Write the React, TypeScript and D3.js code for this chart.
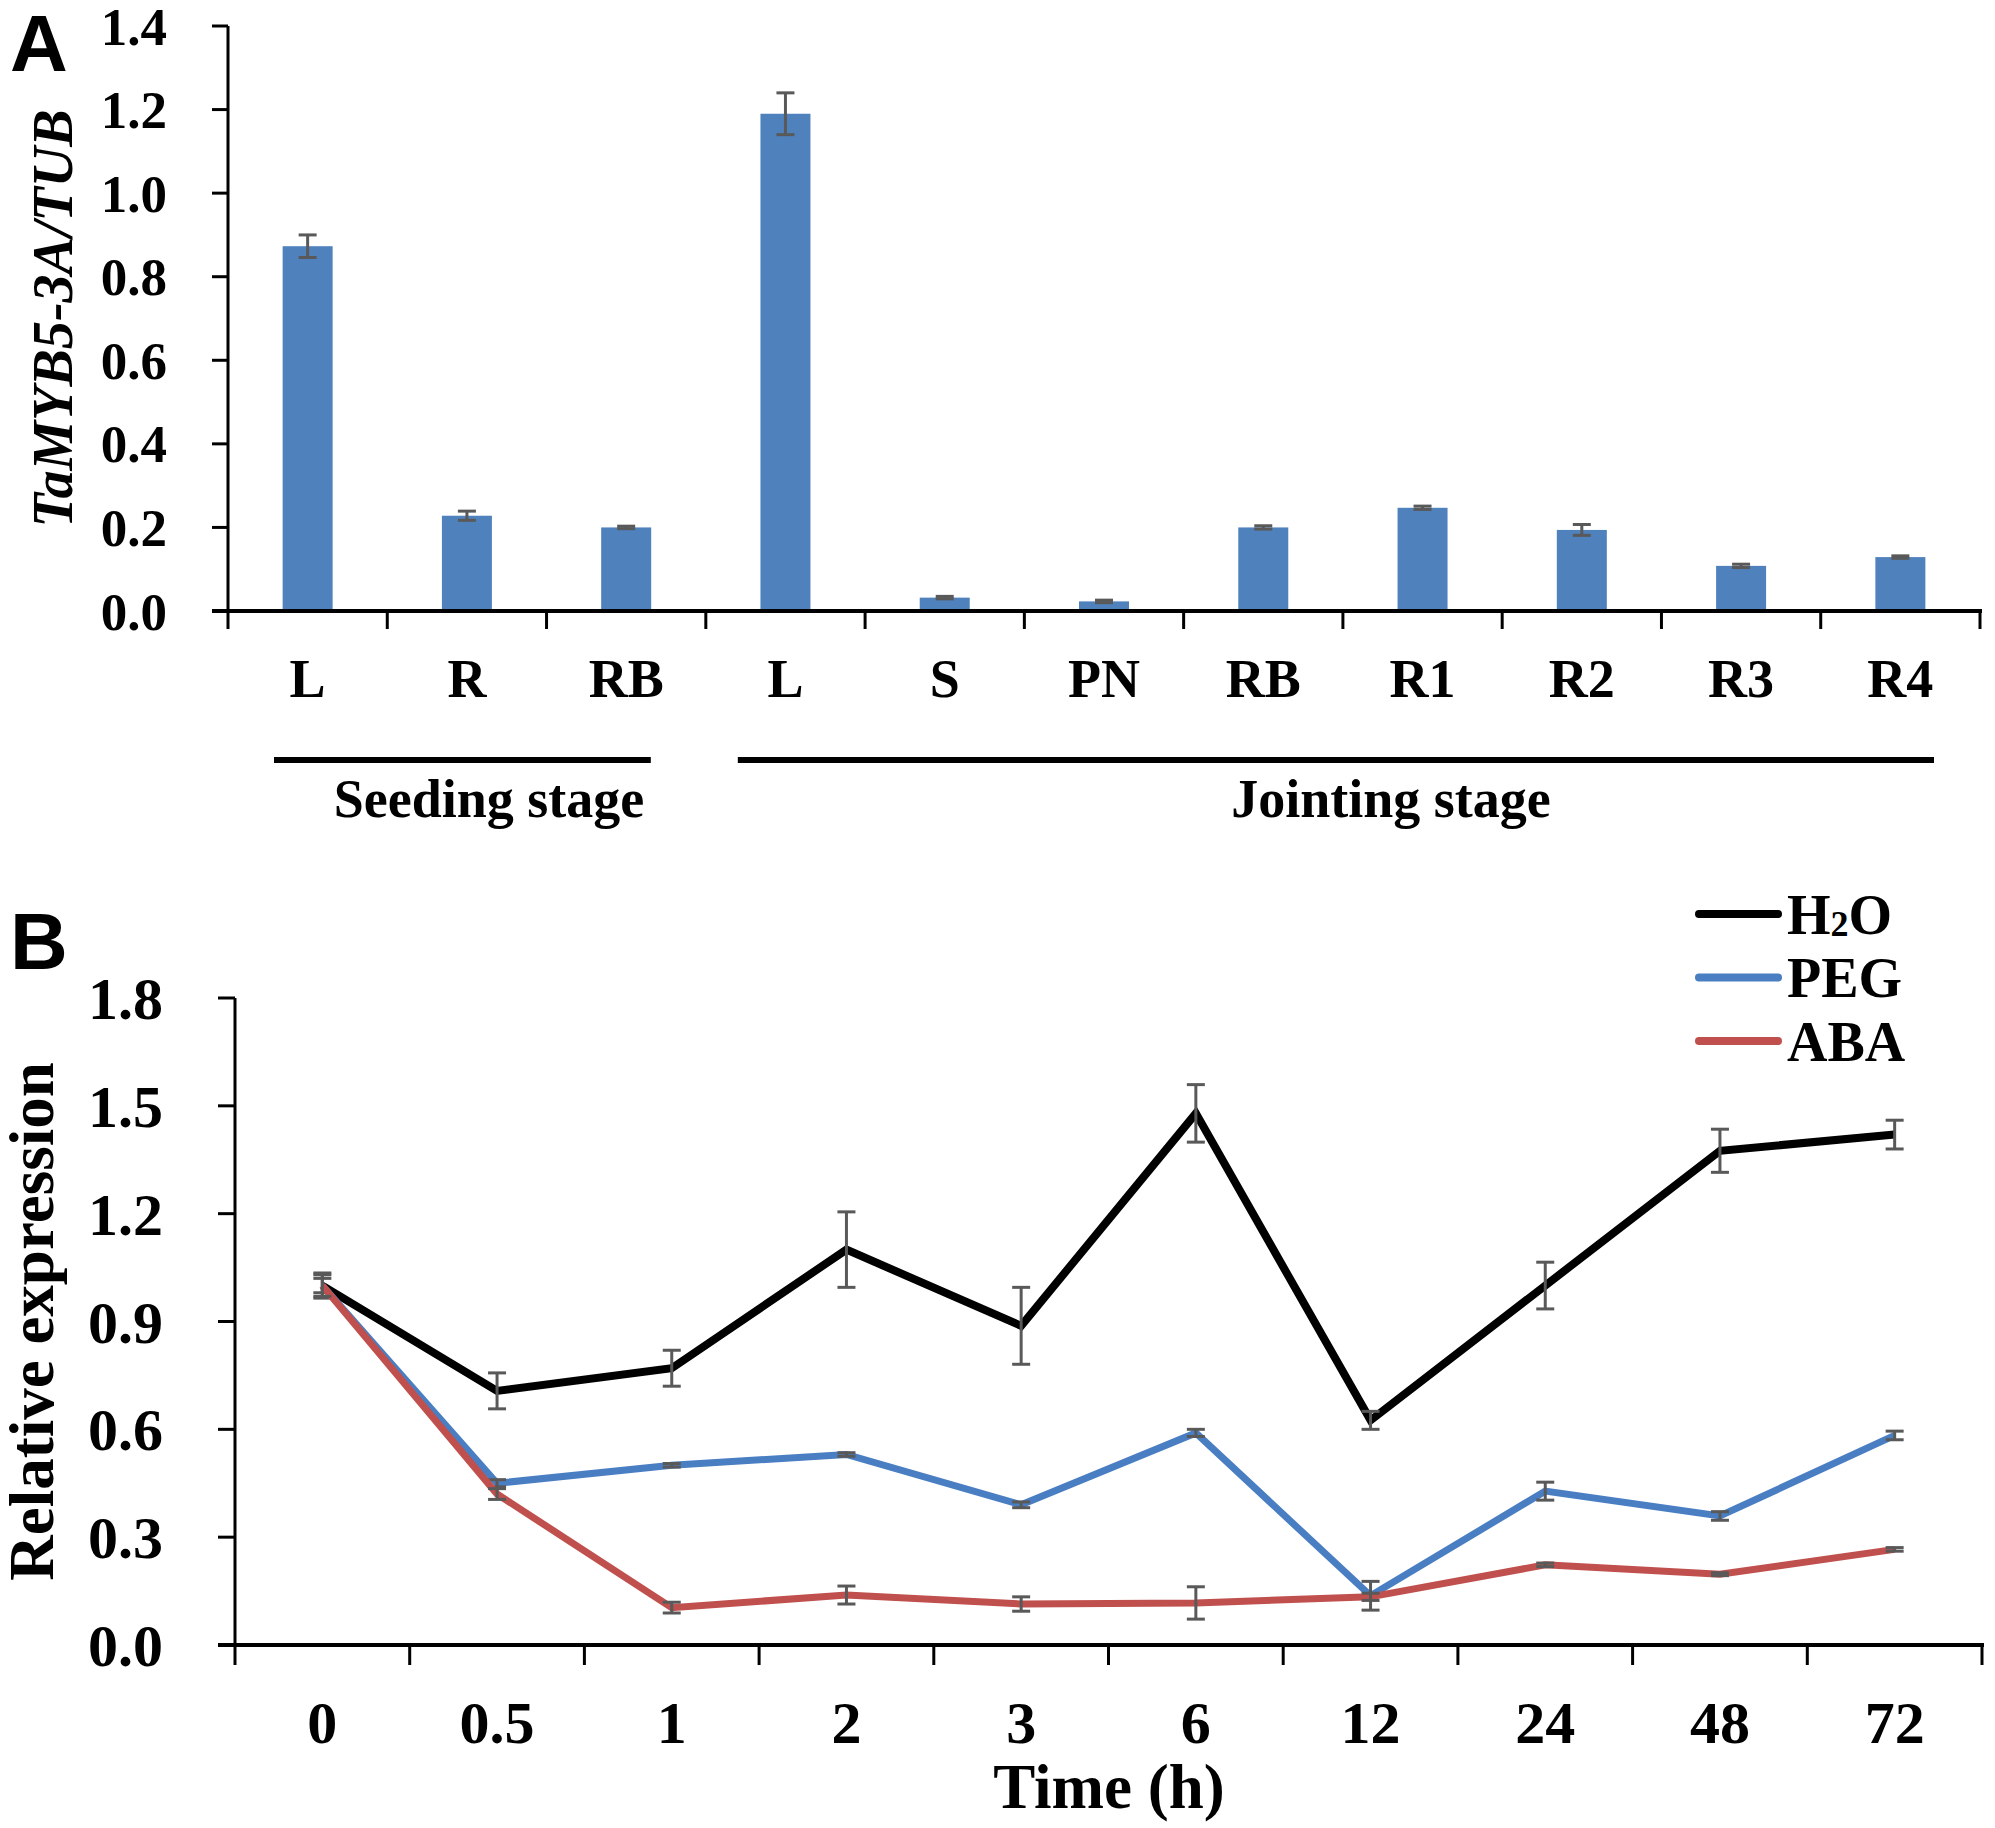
import { scaleBand, scaleLinear, line } from 'd3'

// Panel A: tissue expression
const tissueLabels = ['L', 'R', 'RB', 'L', 'S', 'PN', 'RB', 'R1', 'R2', 'R3', 'R4']
const tissueValues = [0.873, 0.228, 0.2, 1.19, 0.032, 0.023, 0.2, 0.247, 0.194, 0.108, 0.129]
const tissueErrors = [0.027, 0.011, 0.003, 0.05, 0.003, 0.003, 0.004, 0.004, 0.013, 0.004, 0.003]
const tissueTicks = [0, 0.2, 0.4, 0.6, 0.8, 1.0, 1.2, 1.4]
const stageGroups = [
	{ name: 'Seeding stage', from: 0, to: 2 },
	{ name: 'Jointing stage', from: 3, to: 10 },
]

// Panel B: time course
const timeLabels = ['0', '0.5', '1', '2', '3', '6', '12', '24', '48', '72']
const h2oValues = [1.0, 0.707, 0.77, 1.1, 0.888, 1.479, 0.625, 1.0, 1.375, 1.42]
const h2oErrors = [0.035, 0.05, 0.05, 0.105, 0.107, 0.08, 0.025, 0.065, 0.06, 0.04]
const pegValues = [1.0, 0.45, 0.5, 0.53, 0.39, 0.59, 0.137, 0.428, 0.359, 0.583]
const pegErrors = [0.02, 0.01, 0.005, 0.005, 0.008, 0.01, 0.04, 0.025, 0.012, 0.012]
const abaValues = [1.0, 0.42, 0.104, 0.139, 0.114, 0.117, 0.134, 0.223, 0.197, 0.266]
const abaErrors = [0.03, 0.015, 0.015, 0.025, 0.02, 0.045, 0.01, 0.005, 0.004, 0.005]
const timeTicks = [0, 0.3, 0.6, 0.9, 1.2, 1.5, 1.8]

const serif = '"Liberation Serif", "Times New Roman", serif'
const sans = '"Liberation Sans", Arial, sans-serif'
const barColor = '#4F81BD'
const errColor = '#595959'

const series = [
	{ name: 'H2O', values: h2oValues, errors: h2oErrors, color: '#000000', width: 8 },
	{ name: 'PEG', values: pegValues, errors: pegErrors, color: '#4A7EC2', width: 7 },
	{ name: 'ABA', values: abaValues, errors: abaErrors, color: '#C0504D', width: 7 },
]

export default function App() {
	const width = 1995
	const height = 1828

	// ---- panel A scales
	const xA = scaleBand<number>()
		.domain(tissueLabels.map((_, i) => i))
		.range([228, 1980])
	const yA = scaleLinear().domain([0, 1.4]).range([611, 26])
	const barW = 50
	const bwA = xA.bandwidth()
	// bracket insets for the stage lines (start, end)
	const stageInset = [
		[46, 55],
		[32, 46],
	]

	// ---- panel B scales
	const xB = scaleBand<string>().domain(timeLabels).range([235, 1982])
	const yB = scaleLinear().domain([0, 1.8]).range([1645, 998])
	const bwB = xB.bandwidth()
	const cx = (t: string) => (xB(t) ?? 0) + bwB / 2

	const lineGen = line<number>()
		.x((_, i) => cx(timeLabels[i]))
		.y((d) => yB(d))

	return (
		<svg
			width={width}
			height={height}
			viewBox={`0 0 ${width} ${height}`}
			style={{ position: 'absolute', left: 0, top: 0, background: '#fff' }}
		>
			<rect width={width} height={height} fill="#fff" />

			{/* ===== Panel A ===== */}
			<text x={10} y={71} fontFamily={sans} fontWeight="bold" fontSize={80}>
				A
			</text>
			<text
				transform={`translate(72, ${(yA(0) + yA(1.4)) / 2}) rotate(-90)`}
				textAnchor="middle"
				fontFamily={serif}
				fontWeight="bold"
				fontStyle="italic"
				fontSize={56}
			>
				TaMYB5-3A/TUB
			</text>

			{tissueTicks.map((t) => (
				<g key={t}>
					<line x1={212} x2={228} y1={yA(t)} y2={yA(t)} stroke="#000" strokeWidth={3} />
					<text
						x={167}
						y={yA(t)}
						dy="0.35em"
						textAnchor="end"
						fontFamily={serif}
						fontWeight="bold"
						fontSize={53}
					>
						{t.toFixed(1)}
					</text>
				</g>
			))}

			{tissueLabels.map((lab, i) => {
				const x0 = xA(i) ?? 0
				const v = tissueValues[i]
				const e = tissueErrors[i]
				const mx = x0 + bwA / 2
				return (
					<g key={i}>
						<rect x={mx - barW / 2} y={yA(v)} width={barW} height={yA(0) - yA(v)} fill={barColor} />
						<g stroke={errColor} strokeWidth={3}>
							<line x1={mx} x2={mx} y1={yA(v + e)} y2={yA(v - e)} />
							<line x1={mx - 9} x2={mx + 9} y1={yA(v + e)} y2={yA(v + e)} />
							<line x1={mx - 9} x2={mx + 9} y1={yA(v - e)} y2={yA(v - e)} />
						</g>
						<text x={mx} y={697} textAnchor="middle" fontFamily={serif} fontWeight="bold" fontSize={54}>
							{lab}
						</text>
					</g>
				)
			})}

			{tissueLabels.map((_, i) => (
				<line
					key={`tk${i}`}
					x1={(xA(i) ?? 0) + bwA}
					x2={(xA(i) ?? 0) + bwA}
					y1={611}
					y2={629}
					stroke="#000"
					strokeWidth={3}
				/>
			))}
			<line x1={228} x2={228} y1={629} y2={yA(1.4)} stroke="#000" strokeWidth={3} />
			<line x1={212} x2={1982} y1={611} y2={611} stroke="#000" strokeWidth={4} />

			{stageGroups.map((g, gi) => {
				const x1 = (xA(g.from) ?? 0) + stageInset[gi][0]
				const x2 = (xA(g.to) ?? 0) + bwA - stageInset[gi][1]
				const mid = gi === 0 ? 489 : 1391
				return (
					<g key={g.name}>
						<line x1={x1} x2={x2} y1={760} y2={760} stroke="#000" strokeWidth={6} />
						<text x={mid} y={817} textAnchor="middle" fontFamily={serif} fontWeight="bold" fontSize={54}>
							{g.name}
						</text>
					</g>
				)
			})}

			{/* ===== Panel B ===== */}
			<text x={10} y={969} fontFamily={sans} fontWeight="bold" fontSize={80}>
				B
			</text>
			<text
				transform={`translate(53, ${(yB(0) + yB(1.8)) / 2}) rotate(-90)`}
				textAnchor="middle"
				fontFamily={serif}
				fontWeight="bold"
				fontSize={63}
			>
				Relative expression
			</text>

			{timeTicks.map((t) => (
				<g key={t}>
					<line x1={218} x2={235} y1={yB(t)} y2={yB(t)} stroke="#000" strokeWidth={3} />
					<text
						x={163}
						y={yB(t)}
						dy="0.35em"
						textAnchor="end"
						fontFamily={serif}
						fontWeight="bold"
						fontSize={60}
					>
						{t.toFixed(1)}
					</text>
				</g>
			))}

			{timeLabels.map((t) => (
				<g key={t}>
					<line
						x1={(xB(t) ?? 0) + bwB}
						x2={(xB(t) ?? 0) + bwB}
						y1={1645}
						y2={1665}
						stroke="#000"
						strokeWidth={3}
					/>
					<text x={cx(t)} y={1743} textAnchor="middle" fontFamily={serif} fontWeight="bold" fontSize={60}>
						{t}
					</text>
				</g>
			))}
			<line x1={235} x2={235} y1={1665} y2={yB(1.8)} stroke="#000" strokeWidth={3} />
			<line x1={218} x2={1984} y1={1645} y2={1645} stroke="#000" strokeWidth={4} />
			<text x={1109} y={1808} textAnchor="middle" fontFamily={serif} fontWeight="bold" fontSize={63}>
				Time (h)
			</text>

			{series.map((s) => (
				<g key={s.name}>
					<path d={lineGen(s.values) ?? ''} fill="none" stroke={s.color} strokeWidth={s.width} />
					<g stroke={errColor} strokeWidth={3}>
						{s.values.map((v, i) => {
							const x = cx(timeLabels[i])
							const e = s.errors[i]
							return (
								<g key={i}>
									<line x1={x} x2={x} y1={yB(v + e)} y2={yB(v - e)} />
									<line x1={x - 9} x2={x + 9} y1={yB(v + e)} y2={yB(v + e)} />
									<line x1={x - 9} x2={x + 9} y1={yB(v - e)} y2={yB(v - e)} />
								</g>
							)
						})}
					</g>
				</g>
			))}

			{series.map((s, i) => {
				const ly = 914 + i * 63.5
				return (
					<g key={`lg${s.name}`}>
						<line x1={1699} x2={1778} y1={ly} y2={ly} stroke={s.color} strokeWidth={8} strokeLinecap="round" />
						<text x={1787} y={ly} dy="0.35em" fontFamily={serif} fontWeight="bold" fontSize={56}>
							{s.name === 'H2O' ? (
								<>
									H<tspan fontSize={36} dy={2}>2</tspan>
									<tspan dy={-2}>O</tspan>
								</>
							) : (
								s.name
							)}
						</text>
					</g>
				)
			})}
		</svg>
	)
}
